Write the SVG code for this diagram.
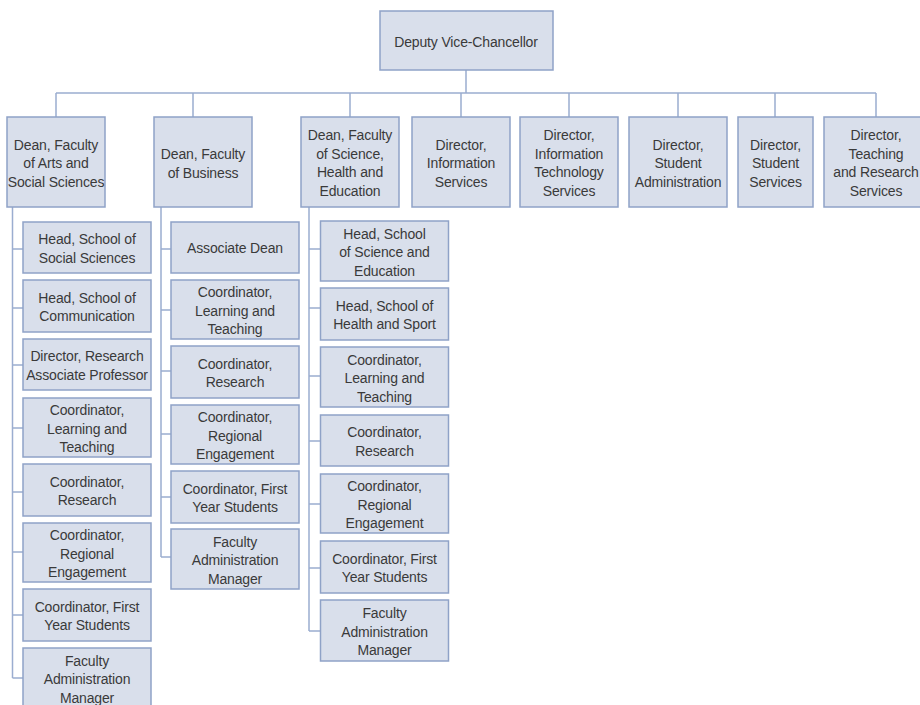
<svg xmlns="http://www.w3.org/2000/svg" width="920" height="705" viewBox="0 0 920 705">
<style>
rect.b{fill:#d9dfeb;stroke:#8fa2c7;stroke-width:1.5}
text{font-family:"Liberation Sans",Arial,sans-serif;font-size:14px;fill:#3a3a3a;text-anchor:middle;dominant-baseline:central;letter-spacing:-0.15px}
#connectors path{fill:none;stroke:#9badd0;stroke-width:1.5}
</style>
<rect width="920" height="705" fill="#ffffff"/>
<g id="connectors">
<path d="M466,70V93M56,93H876M56,93V117M193,93V117M350,93V117M461,93V117M569,93V117M678,93V117M775,93V117M876,93V117"/>
<path d="M12.5,207V678M12.5,249H23M12.5,308H23M12.5,365H23M12.5,428H23M12.5,492H23M12.5,552H23M12.5,615H23M12.5,678H23"/>
<path d="M161,207V557M161,249H171M161,310H171M161,371H171M161,434H171M161,497H171M161,557H171"/>
<path d="M309,207V631M309,249H320M309,308H320M309,376H320M309,441H320M309,504H320M309,568H320M309,631H320"/>
</g>
<g id="dvc"><rect class="b" x="380" y="11" width="173" height="59"/><text x="466" y="42">Deputy Vice-Chancellor</text></g>
<g id="dean-arts"><rect class="b" x="7" y="117" width="98" height="90"/><text x="56" y="144.5">Dean, Faculty</text><text x="56" y="163">of Arts and</text><text x="56" y="181.5">Social Sciences</text></g>
<g id="dean-business"><rect class="b" x="154" y="117" width="98" height="90"/><text x="203" y="154">Dean, Faculty</text><text x="203" y="172.5">of Business</text></g>
<g id="dean-science"><rect class="b" x="301" y="117" width="98" height="90"/><text x="350" y="135.3">Dean, Faculty</text><text x="350" y="153.8">of Science,</text><text x="350" y="172.3">Health and</text><text x="350" y="190.8">Education</text></g>
<g id="dir-is"><rect class="b" x="412" y="117" width="98" height="90"/><text x="461" y="144.5">Director,</text><text x="461" y="163">Information</text><text x="461" y="181.5">Services</text></g>
<g id="dir-its"><rect class="b" x="520" y="117" width="98" height="90"/><text x="569" y="135.3">Director,</text><text x="569" y="153.8">Information</text><text x="569" y="172.3">Technology</text><text x="569" y="190.8">Services</text></g>
<g id="dir-sa"><rect class="b" x="629" y="117" width="98" height="90"/><text x="678" y="144.5">Director,</text><text x="678" y="163">Student</text><text x="678" y="181.5">Administration</text></g>
<g id="dir-ss"><rect class="b" x="738" y="117" width="75" height="90"/><text x="775.5" y="144.5">Director,</text><text x="775.5" y="163">Student</text><text x="775.5" y="181.5">Services</text></g>
<g id="dir-trs"><rect class="b" x="824" y="117" width="104" height="90"/><text x="876" y="135.3">Director,</text><text x="876" y="153.8">Teaching</text><text x="876" y="172.3">and Research</text><text x="876" y="190.8">Services</text></g>

<g id="a1"><rect class="b" x="23" y="222" width="128" height="51"/><text x="87" y="239">Head, School of</text><text x="87" y="257.5">Social Sciences</text></g>
<g id="a2"><rect class="b" x="23" y="280" width="128" height="52"/><text x="87" y="297.5">Head, School of</text><text x="87" y="316">Communication</text></g>
<g id="a3"><rect class="b" x="23" y="339" width="128" height="51"/><text x="87" y="356">Director, Research</text><text x="87" y="374.5">Associate Professor</text></g>
<g id="a4"><rect class="b" x="23" y="398" width="128" height="59"/><text x="87" y="410">Coordinator,</text><text x="87" y="428.5">Learning and</text><text x="87" y="447">Teaching</text></g>
<g id="a5"><rect class="b" x="23" y="464" width="128" height="52"/><text x="87" y="481.5">Coordinator,</text><text x="87" y="500">Research</text></g>
<g id="a6"><rect class="b" x="23" y="523" width="128" height="59"/><text x="87" y="535">Coordinator,</text><text x="87" y="553.5">Regional</text><text x="87" y="572">Engagement</text></g>
<g id="a7"><rect class="b" x="23" y="589" width="128" height="52"/><text x="87" y="606.5">Coordinator, First</text><text x="87" y="625">Year Students</text></g>
<g id="a8"><rect class="b" x="23" y="648" width="128" height="62"/><text x="87" y="660.5">Faculty</text><text x="87" y="679">Administration</text><text x="87" y="697.5">Manager</text></g>

<g id="b1"><rect class="b" x="171" y="222" width="128" height="51"/><text x="235" y="248">Associate Dean</text></g>
<g id="b2"><rect class="b" x="171" y="280" width="128" height="59"/><text x="235" y="292">Coordinator,</text><text x="235" y="310.5">Learning and</text><text x="235" y="329">Teaching</text></g>
<g id="b3"><rect class="b" x="171" y="346" width="128" height="52"/><text x="235" y="363.5">Coordinator,</text><text x="235" y="382">Research</text></g>
<g id="b4"><rect class="b" x="171" y="405" width="128" height="59"/><text x="235" y="417">Coordinator,</text><text x="235" y="435.5">Regional</text><text x="235" y="454">Engagement</text></g>
<g id="b5"><rect class="b" x="171" y="471" width="128" height="52"/><text x="235" y="488.5">Coordinator, First</text><text x="235" y="507">Year Students</text></g>
<g id="b6"><rect class="b" x="171" y="529" width="128" height="60"/><text x="235" y="541.5">Faculty</text><text x="235" y="560">Administration</text><text x="235" y="578.5">Manager</text></g>

<g id="c1"><rect class="b" x="320.5" y="221" width="128" height="60"/><text x="384.5" y="233.5">Head, School</text><text x="384.5" y="252">of Science and</text><text x="384.5" y="270.5">Education</text></g>
<g id="c2"><rect class="b" x="320.5" y="288" width="128" height="52"/><text x="384.5" y="305.5">Head, School of</text><text x="384.5" y="324">Health and Sport</text></g>
<g id="c3"><rect class="b" x="320.5" y="347" width="128" height="60"/><text x="384.5" y="359.5">Coordinator,</text><text x="384.5" y="378">Learning and</text><text x="384.5" y="396.5">Teaching</text></g>
<g id="c4"><rect class="b" x="320.5" y="415" width="128" height="51"/><text x="384.5" y="432">Coordinator,</text><text x="384.5" y="450.5">Research</text></g>
<g id="c5"><rect class="b" x="320.5" y="474" width="128" height="59"/><text x="384.5" y="486">Coordinator,</text><text x="384.5" y="504.5">Regional</text><text x="384.5" y="523">Engagement</text></g>
<g id="c6"><rect class="b" x="320.5" y="541" width="128" height="52"/><text x="384.5" y="558.5">Coordinator, First</text><text x="384.5" y="577">Year Students</text></g>
<g id="c7"><rect class="b" x="320.5" y="600" width="128" height="61"/><text x="384.5" y="613">Faculty</text><text x="384.5" y="631.5">Administration</text><text x="384.5" y="650">Manager</text></g>
</svg>
